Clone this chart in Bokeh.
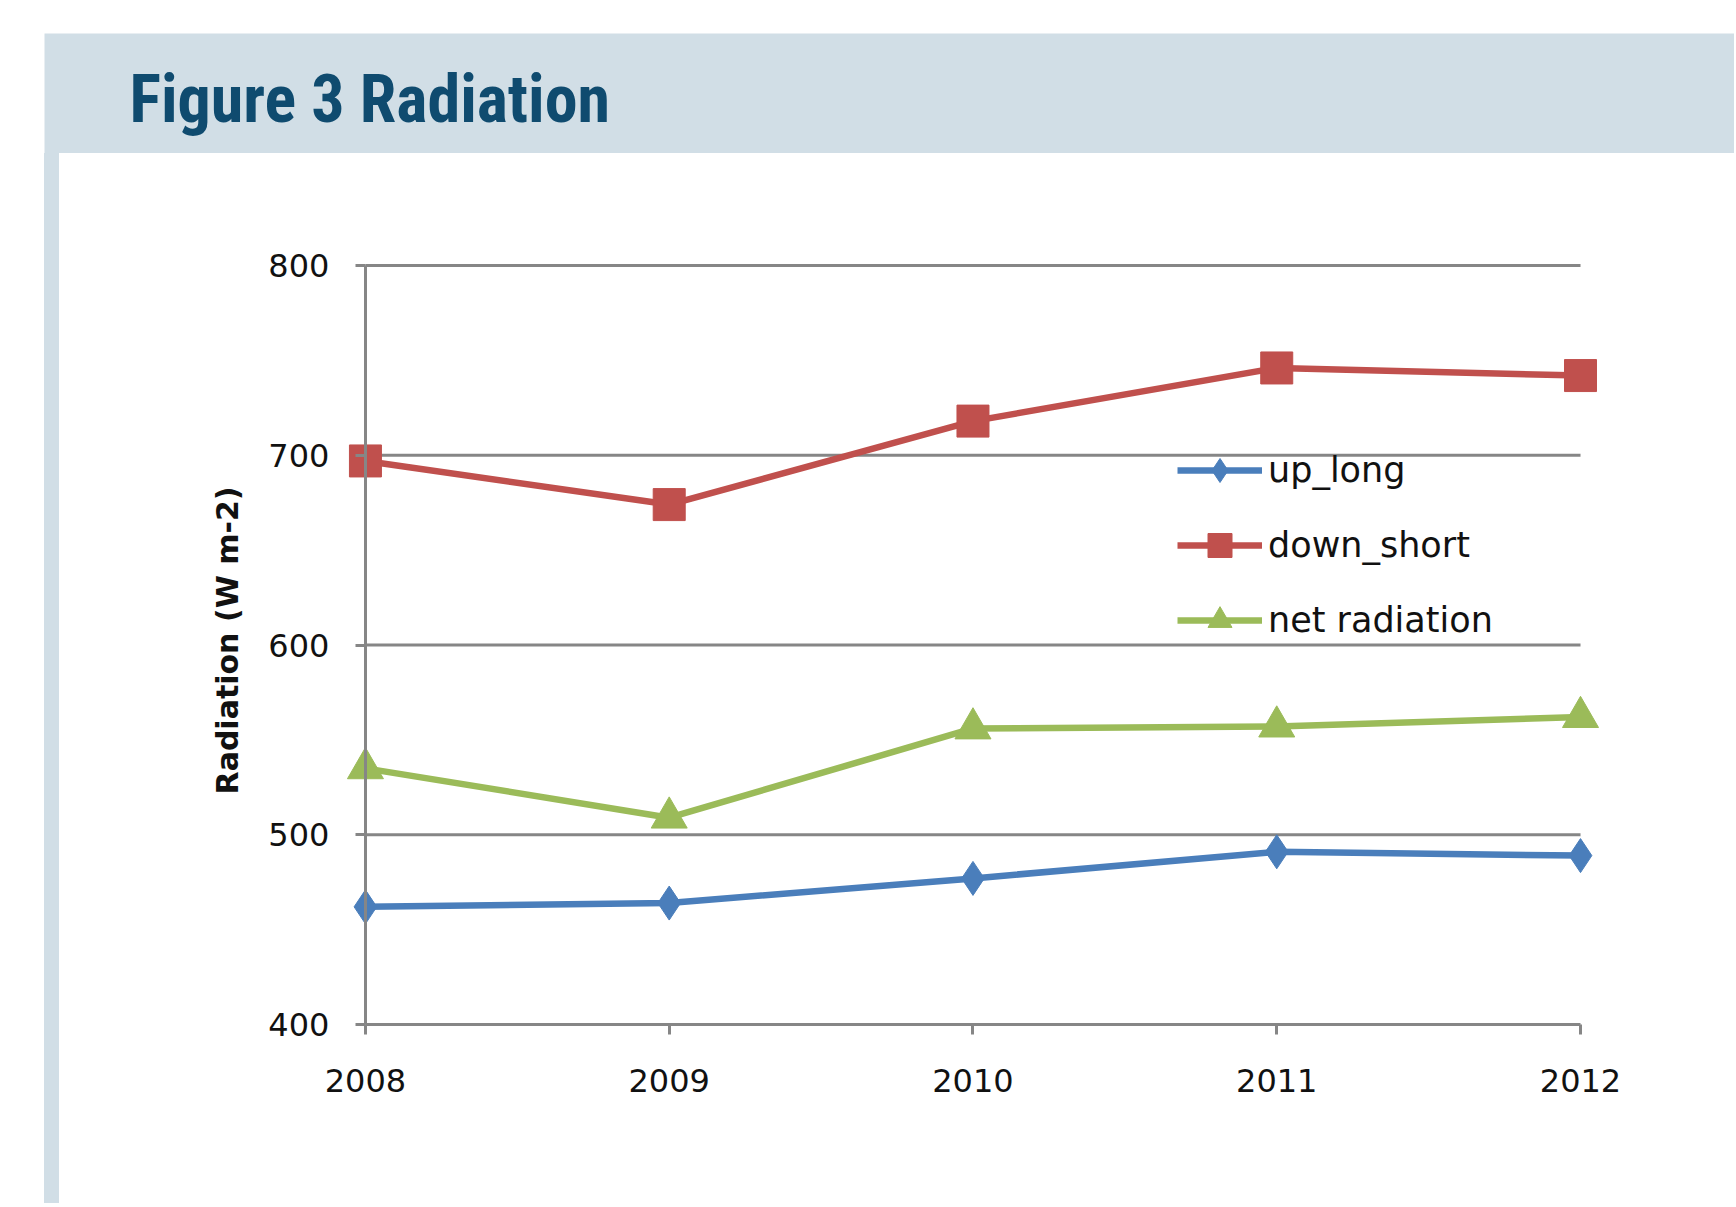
import math
from bokeh.plotting import figure
from bokeh.models import Range1d, FixedTicker, Label, Legend, LegendItem, Spacer
from bokeh.layouts import column, row
from bokeh.embed import file_html
from bokeh.resources import INLINE

# ---- data ----
years = [2008, 2009, 2010, 2011, 2012]
up_long = [462, 464, 477, 491, 489]
down_short = [697, 674, 718, 746, 742]
net_radiation = [535, 509, 556, 557, 562]
y_ticks = [400, 500, 600, 700, 800]
series_names = ["up_long", "down_short", "net radiation"]
title_text = "Figure 3 Radiation"
y_label = "Radiation (W m-2)"

BAND = "#d1dee6"
BLUE = "#4a7ebb"
RED = "#c0504d"
GREEN = "#9bbb59"
GRIDC = "#868686"
TXT = "#111111"

TOTAL_W = 1734

# ---- title band ----
band = figure(width=TOTAL_W, height=153, x_range=Range1d(0, TOTAL_W - 44), y_range=Range1d(0, 120),
              x_axis_type=None, y_axis_type=None, toolbar_location=None,
              output_backend="svg", min_border_left=44, min_border_right=0,
              min_border_top=33, min_border_bottom=0, background_fill_color=BAND,
              border_fill_color="white", outline_line_color=None)
band.xgrid.visible = False
band.ygrid.visible = False
band.add_layout(Label(x=85, y=54, text=title_text, text_font="Roboto Condensed",
                      text_font_style="bold", text_font_size="66px", text_color="#0f4b6f",
                      text_baseline="middle"))

# ---- main chart ----
MAIN_W = TOTAL_W - 59
MAIN_H = 1050
PX_YEAR = 303.86
PX_UNIT = 759 / (y_ticks[-1] - y_ticks[0])
PAD_L, PAD_R, PAD_T, PAD_B = 195, 50, 25, 78     # pixels of room inside the frame
BORDER_L, BORDER_T = 111, 87
FRAME_W = round((years[-1] - years[0]) * PX_YEAR + PAD_L + PAD_R)
FRAME_H = round((y_ticks[-1] - y_ticks[0]) * PX_UNIT + PAD_T + PAD_B)

p = figure(width=MAIN_W, height=MAIN_H,
           x_range=Range1d(years[0] - PAD_L / PX_YEAR, years[-1] + PAD_R / PX_YEAR),
           y_range=Range1d(y_ticks[0] - PAD_B / PX_UNIT, y_ticks[-1] + PAD_T / PX_UNIT),
           toolbar_location=None, output_backend="svg",
           min_border_left=BORDER_L, min_border_right=MAIN_W - BORDER_L - FRAME_W,
           min_border_top=BORDER_T, min_border_bottom=MAIN_H - BORDER_T - FRAME_H,
           background_fill_color="white", border_fill_color="white",
           outline_line_color=None)
p.xgrid.visible = False
p.ygrid.visible = False

# horizontal grid lines spanning first to last year
p.segment(x0=years[0], x1=years[-1], y0=y_ticks[1:], y1=y_ticks[1:],
          line_color=GRIDC, line_width=3)

lines = []
for vals, col, marker, size, lw in [
    (up_long, BLUE, "diamond", 34, 6.5),
    (down_short, RED, "square", 32, 6.5),
    (net_radiation, GREEN, "triangle", 36, 6.5),
]:
    lr = p.line(years, vals, line_color=col, line_width=lw)
    sr = p.scatter(years, vals, marker=marker, size=size, fill_color=col, line_color=col)
    lines.append([lr, sr])

# axes
for ax in (p.xaxis, p.yaxis):
    ax.axis_line_color = GRIDC
    ax.axis_line_width = 3
    ax.major_tick_line_color = GRIDC
    ax.major_tick_line_width = 3
    ax.major_tick_in = 0
    ax.major_tick_out = 10
    ax.minor_tick_line_color = None
    ax.major_label_text_font = "DejaVu Sans"
    ax.major_label_text_font_size = "32px"
    ax.major_label_text_color = TXT

p.xaxis.ticker = FixedTicker(ticks=years)
p.xaxis.bounds = (years[0], years[-1])
p.xaxis.fixed_location = y_ticks[0]
p.xaxis.major_label_standoff = 34
p.xaxis.major_label_overrides = {y: str(y) for y in years}

p.yaxis.ticker = FixedTicker(ticks=y_ticks)
p.yaxis.bounds = (y_ticks[0], y_ticks[-1])
p.yaxis.fixed_location = years[0]
p.yaxis.major_label_standoff = 26

p.add_layout(Label(x=years[0] - 138 / PX_YEAR,
                   y=(y_ticks[0] + y_ticks[-1]) / 2 + 4.5 / PX_UNIT,
                   text=y_label, angle=math.pi / 2, text_align="center",
                   text_baseline="middle", text_font="DejaVu Sans",
                   text_font_style="bold", text_font_size="30px", text_color=TXT))

# legend position measured from the frame's bottom-left corner
legend = Legend(items=[LegendItem(label=n, renderers=r) for n, r in zip(series_names, lines)],
                location=(PAD_L - 21 + 833, 374 + PAD_B), padding=0, margin=0, spacing=15,
                glyph_width=85, glyph_height=60, label_height=60, label_standoff=6,
                label_text_font="DejaVu Sans", label_text_font_size="35px",
                label_text_color=TXT, background_fill_alpha=0, border_line_color=None)
p.add_layout(legend)

layout = column(band,
                row(Spacer(width=44, height=MAIN_H),
                    Spacer(width=15, height=MAIN_H, styles={"background-color": BAND}),
                    p))
open("out.html", "w").write(file_html(layout, INLINE))
